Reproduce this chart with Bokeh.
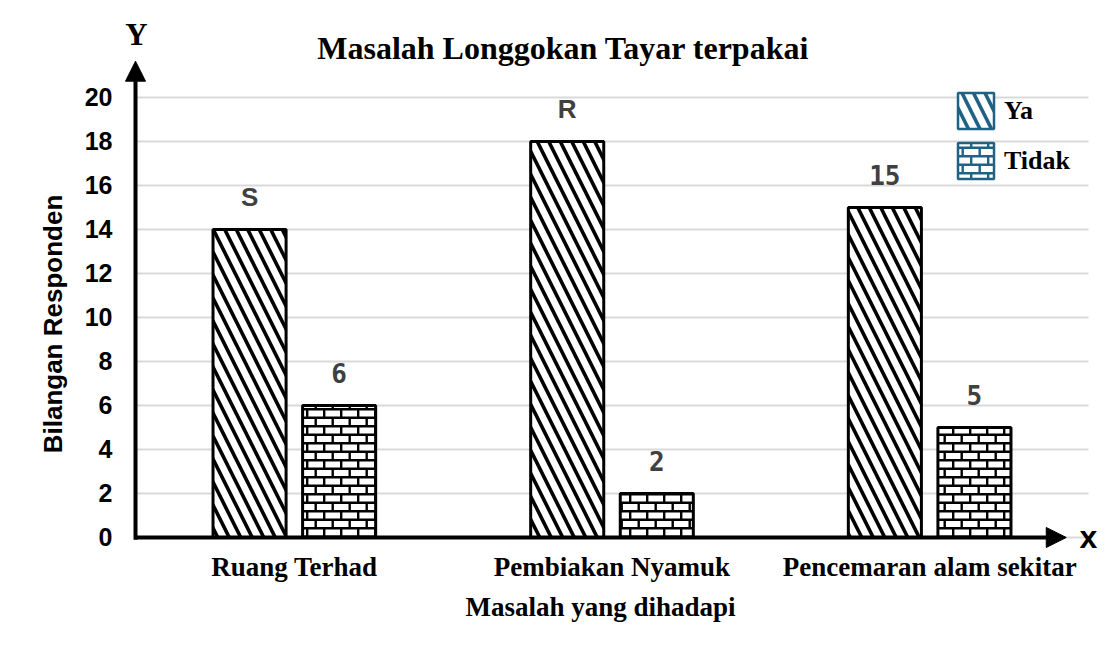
import base64
from bokeh.plotting import figure
from bokeh.models import (ColumnDataSource, FactorRange, Range1d, FixedTicker, Arrow,
                          NormalHead, Label, Legend, LegendItem, ImageURLTexture)
from bokeh.transform import dodge
from bokeh.core.properties import value
from bokeh.embed import file_html
from bokeh.resources import INLINE

# ---- data ----
categories = ["Ruang Terhad", "Pembiakan Nyamuk", "Pencemaran alam sekitar"]
series = ["Ya", "Tidak"]
ya = [14, 18, 15]
tidak = [6, 2, 5]
ya_labels = ["S", "R", "15"]
tidak_labels = ["6", "2", "5"]
y_ticks = [0, 2, 4, 6, 8, 10, 12, 14, 16, 18, 20]

title = "Masalah Longgokan Tayar terpakai"
x_title = "Masalah yang dihadapi"
y_title = "Bilangan Responden"

LABEL_GRAY = "#404040"
LEG_BLUE = "#1f6285"


def brick_texture(color):
    # 17x17 tile: two brick courses, mortar lines 2.4px
    svg = ("<svg xmlns='http://www.w3.org/2000/svg' width='17' height='17' viewBox='0 0 17 17'>"
           "<rect width='17' height='17' fill='white'/>"
           f"<path d='M0 1.2H17M0 9.7H17M1.2 0V9.7M9.7 9.7V17' stroke='{color}' "
           "stroke-width='2.4' fill='none'/></svg>")
    url = "data:image/svg+xml;base64," + base64.b64encode(svg.encode()).decode()
    return ImageURLTexture(url=url)


def fonts_for(labels):
    return ["Liberation Sans" if l.isalpha() else "DejaVu Sans Mono" for l in labels]


src = ColumnDataSource(dict(cat=categories, ya=ya, tidak=tidak,
                            ya_lbl=ya_labels, tidak_lbl=tidak_labels,
                            ya_font=fonts_for(ya_labels), tidak_font=fonts_for(tidak_labels)))

x_range = FactorRange(*categories, range_padding=0.063, range_padding_units="absolute")
p = figure(width=1108, height=647, x_range=x_range, y_range=Range1d(-5.0, 24.409),
           output_backend="svg", toolbar_location=None,
           min_border_left=115, min_border_right=0, min_border_top=0, min_border_bottom=0)
p.outline_line_color = None
p.background_fill_color = "white"
p.border_fill_color = "white"

# grid (drawn between the axis and the last category)
p.xgrid.grid_line_color = None
p.ygrid.grid_line_color = None
p.segment(x0=0, x1=len(categories), y0=y_ticks, y1=y_ticks,
          line_color="#d9d9d9", line_width=2, level="underlay")

# y axis (left panel)
p.yaxis.ticker = FixedTicker(ticks=y_ticks)
p.yaxis.axis_line_color = None
p.yaxis.major_tick_line_color = None
p.yaxis.minor_tick_line_color = None
p.yaxis.major_label_standoff = -3
p.yaxis.major_label_text_font = "Liberation Sans"
p.yaxis.major_label_text_font_style = "bold"
p.yaxis.major_label_text_font_size = "25px"
p.yaxis.major_label_text_color = "black"
p.yaxis.axis_label = y_title
p.yaxis.axis_label_standoff = 14
p.yaxis.axis_label_text_font = "Liberation Sans"
p.yaxis.axis_label_text_font_style = "bold"
p.yaxis.axis_label_text_font_size = "26px"
p.yaxis.axis_label_text_color = "black"

# x axis drawn at y = 0 inside the frame
p.xaxis.fixed_location = 0
p.xaxis.axis_line_color = None
p.xaxis.major_tick_line_color = None
p.xaxis.minor_tick_line_color = None
p.xaxis.major_label_standoff = 9
p.xaxis.major_label_text_font = "Liberation Serif"
p.xaxis.major_label_text_font_style = "bold"
p.xaxis.major_label_text_font_size = "27px"
p.xaxis.major_label_text_color = "black"

# bars
p.vbar(x=dodge("cat", -0.141, range=p.x_range), top="ya", width=0.23, source=src,
       fill_color="white", line_color="black", line_width=3,
       hatch_pattern="left_diagonal_line", hatch_color="black", hatch_scale=23, hatch_weight=3.6)
p.vbar(x=dodge("cat", 0.141, range=p.x_range), top="tidak", width=0.23, source=src,
       fill_color="white", line_color="black", line_width=3,
       hatch_extra={"brick": brick_texture("black")},
       hatch_pattern=value("brick"), hatch_color="black")

# value labels
p.text(x=dodge("cat", -0.141, range=p.x_range), y="ya", text="ya_lbl", source=src,
       text_font="ya_font", text_font_style="bold", text_font_size="26px",
       text_color=LABEL_GRAY, text_align="center", text_baseline="middle", y_offset=-32)
p.text(x=dodge("cat", 0.141, range=p.x_range), y="tidak", text="tidak_lbl", source=src,
       text_font="tidak_font", text_font_style="bold", text_font_size="26px",
       text_color=LABEL_GRAY, text_align="center", text_baseline="middle", y_offset=-32)

# axis arrows
p.add_layout(Arrow(x_start=0, y_start=0, x_end=2.93, y_end=0, line_width=4, line_color="black",
                   end=NormalHead(size=20, fill_color="black", line_color="black")))
p.add_layout(Arrow(x_start=0, y_start=-0.1, x_end=0, y_end=21.65, line_width=4, line_color="black",
                   end=NormalHead(size=20, fill_color="black", line_color="black")))

# texts
p.add_layout(Label(x=1.347, y=22.27, text=title, text_font="Liberation Serif",
                   text_font_style="bold", text_font_size="32px", text_align="center",
                   text_baseline="middle", text_color="black"))
p.add_layout(Label(x=0.003, y=22.86, text="Y", text_font="Liberation Serif",
                   text_font_style="bold", text_font_size="31px", text_align="center",
                   text_baseline="middle", text_color="black"))
p.add_layout(Label(x=3.0, y=0, text="x", text_font="Liberation Sans",
                   text_font_style="bold", text_font_size="32px", text_align="center",
                   text_baseline="middle", text_color="black"))
p.add_layout(Label(x=1.464, y=-3.18, text=x_title, text_font="Liberation Serif",
                   text_font_style="bold", text_font_size="27px", text_align="center",
                   text_baseline="middle", text_color="black"))

# legend (blue swatches, renderers without visible marks)
dummy = ColumnDataSource(dict(x=[categories[0]], top=[float("nan")]))
r_ya = p.vbar(x="x", top="top", width=0.2, source=dummy, fill_color="white",
              line_color=LEG_BLUE, line_width=2.5, hatch_pattern="left_diagonal_line",
              hatch_color=LEG_BLUE, hatch_scale=23, hatch_weight=3.6)
r_ti = p.vbar(x="x", top="top", width=0.2, source=dummy, fill_color="white",
              line_color=LEG_BLUE, line_width=2.5,
              hatch_extra={"brick": brick_texture(LEG_BLUE)},
              hatch_pattern=value("brick"), hatch_color=LEG_BLUE)
legend = Legend(items=[LegendItem(label=series[0], renderers=[r_ya]),
                       LegendItem(label=series[1], renderers=[r_ti])],
                location=(838, 464), glyph_width=45, glyph_height=45, spacing=5,
                padding=0, margin=0, label_standoff=6, border_line_color=None,
                background_fill_alpha=0, label_text_font="Liberation Serif",
                label_text_font_style="bold", label_text_font_size="26px",
                label_text_color="black")
p.add_layout(legend)

open("out.html", "w").write(file_html(p, INLINE))
